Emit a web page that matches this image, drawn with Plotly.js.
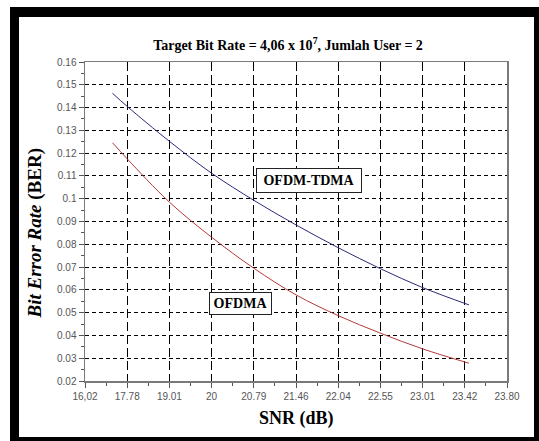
<!DOCTYPE html>
<html>
<head>
<meta charset="utf-8">
<script src="https://cdn.plot.ly/plotly-3.0.1.min.js"></script>
<style>
html,body{margin:0;padding:0;background:#fff;}
#chart{width:539px;height:441px;}
</style>
</head>
<body>
<div id="chart"></div>
<script>
// ---- data (x positions are category slots on the SNR axis) ----
var snrTickLabels = ["16,02","17.78","19.01","20","20.79","21.46","22.04","22.55","23.01","23.42","23.80"];
var snrSlots = [0,1,2,3,4,5,6,7,8,9,10];

var ofdmTdmaX = [0.65, 1, 2, 3, 4, 5, 6, 7, 8, 9.1];
var ofdmTdmaY = [0.1463, 0.1405, 0.1252, 0.1112, 0.0993, 0.0885, 0.0785, 0.0693, 0.0610, 0.0534];

var ofdmaX = [0.65, 1, 2, 3, 4, 5, 6, 7, 8, 9.1];
var ofdmaY = [0.1246, 0.1175, 0.0985, 0.0831, 0.0695, 0.0578, 0.0487, 0.0410, 0.0341, 0.0278];

var seriesNames = ["OFDM-TDMA", "OFDMA"];
var titleText = "<b>Target Bit Rate = 4,06 x 10<sup>7</sup>, Jumlah User = 2</b>";

// ---- layout geometry ----
var W = 539, H = 441;
var M = {l: 85, r: 32, t: 62, b: 60};
var pw = W - M.l - M.r, ph = H - M.t - M.b;
function px(X){ return (X - M.l) / pw; }
function py(Y){ return (H - M.b - Y) / ph; }

function band(x0, y0, x1, y1){
  return {type:'rect', xref:'paper', yref:'paper', x0:px(x0), x1:px(x1), y0:py(y1), y1:py(y0),
          fillcolor:'#000', line:{width:0}, layer:'above'};
}

var serif = "'Liberation Serif', 'Times New Roman', serif";
var sans = "'Liberation Sans', Arial, sans-serif";

var traces = [
  {x: ofdmTdmaX, y: ofdmTdmaY, name: seriesNames[0], mode:'lines',
   line:{color:'#2b2b78', width:1, shape:'spline'}},
  {x: ofdmaX, y: ofdmaY, name: seriesNames[1], mode:'lines',
   line:{color:'#b23a3a', width:1, shape:'spline'}}
];

var layout = {
  width: W, height: H,
  margin: M,
  paper_bgcolor:'#fff', plot_bgcolor:'#fff',
  showlegend:false,
  title:{text: titleText, font:{family: serif, size:14, color:'#000'},
         xref:'container', x: 288/W, xanchor:'center', yref:'container', y: 1 - 45/H, yanchor:'middle'},
  xaxis:{
    range:[0,10], tickmode:'array', tickvals: snrSlots, ticktext: snrTickLabels,
    showline:true, linecolor:'#7a7a7a', linewidth:1.5, mirror:true,
    ticks:'outside', ticklen:5, tickcolor:'#555', tickwidth:1,
    tickfont:{family: sans, size:10, color:'#555'},
    showgrid:true, gridcolor:'#000', gridwidth:1, griddash:'9px,4px',
    zeroline:false,
    minor:{tick0:0, dtick:0.5, ticks:'outside', ticklen:3, tickcolor:'#555', showgrid:false}
  },
  yaxis:{
    range:[0.02,0.16], dtick:0.01, tick0:0.02,
    showline:true, linecolor:'#7a7a7a', linewidth:1.5, mirror:true,
    ticks:'outside', ticklen:5, tickcolor:'#555', tickwidth:1,
    tickfont:{family: sans, size:10, color:'#555'},
    showgrid:true, gridcolor:'#000', gridwidth:1, griddash:'4px,3px',
    zeroline:false,
    minor:{tick0:0.02, dtick:0.005, ticks:'outside', ticklen:3, tickcolor:'#555', showgrid:false}
  },
  annotations:[
    {xref:'paper', yref:'paper', x: px(34), y: py(233.5), xanchor:'center', yanchor:'middle',
     text:'<b><i>Bit Error Rate</i> (BER)</b>', textangle:-90, showarrow:false,
     font:{family: serif, size:19, color:'#000'}},
    {xref:'paper', yref:'paper', x: px(296), y: py(418), xanchor:'center', yanchor:'middle',
     text:'<b>SNR (dB)</b>', showarrow:false, font:{family: serif, size:18, color:'#000'}},
    {x: 5.31, y: 0.108, xanchor:'center', yanchor:'middle', text:'<b>' + seriesNames[0] + '</b>',
     showarrow:false, bgcolor:'#fff', bordercolor:'#222', borderwidth:1, borderpad:3,
     width:98, height:17, font:{family: serif, size:14, color:'#000'}},
    {x: 3.685, y: 0.0541, xanchor:'center', yanchor:'middle', text:'<b>' + seriesNames[1] + '</b>',
     showarrow:false, bgcolor:'#fff', bordercolor:'#222', borderwidth:1, borderpad:3,
     width:55, height:15, font:{family: serif, size:14, color:'#000'}}
  ],
  shapes:[
    band(10, 7, 539, 17),
    band(10, 7, 19, 441),
    band(534, 7, 539, 441),
    band(10, 437, 539, 441)
  ]
};

Plotly.newPlot('chart', traces, layout, {staticPlot:true, displayModeBar:false});
</script>
</body>
</html>
